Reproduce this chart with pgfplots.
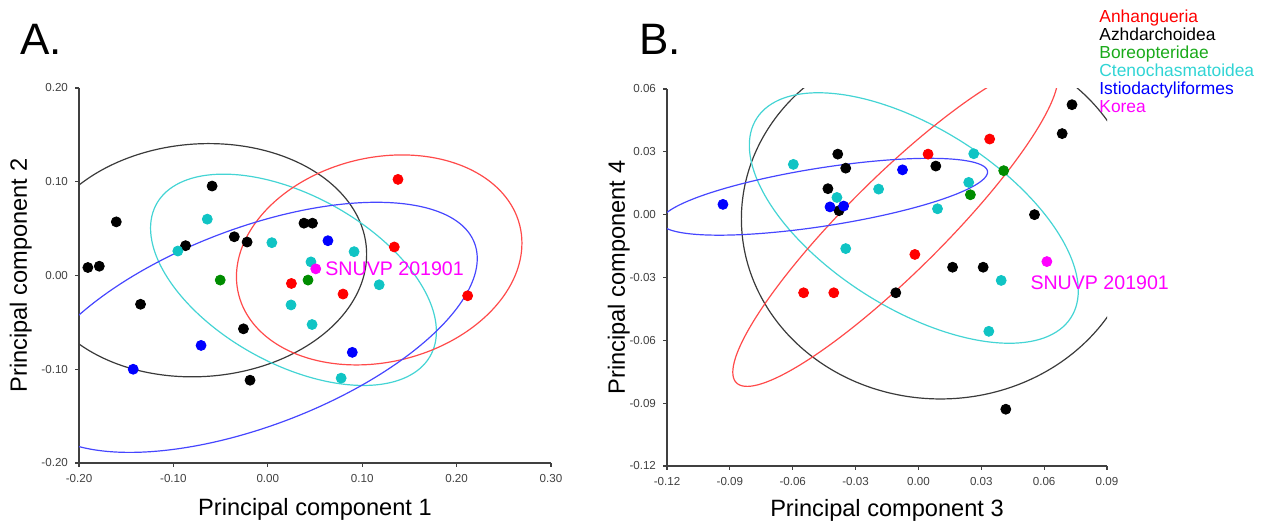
\documentclass[border=0pt]{standalone}
\usepackage{fontspec}
\setmainfont{Liberation Sans}
\usepackage{pgfplots}
\pgfplotsset{compat=1.18}

% point colours
\definecolor{pRed}{HTML}{FF0000}
\definecolor{pBlack}{HTML}{000000}
\definecolor{pGreen}{HTML}{008C00}
\definecolor{pCyan}{HTML}{10C4C4}
\definecolor{pBlue}{HTML}{0000FF}
\definecolor{pMag}{HTML}{FF00FF}
% ellipse colours
\definecolor{eRed}{HTML}{FF4A4A}
\definecolor{eBlack}{HTML}{3A3A3A}
\definecolor{eCyan}{HTML}{44D4D4}
\definecolor{eBlue}{HTML}{4646FF}
% legend text colours
\definecolor{lGreen}{HTML}{1AAA1A}
\definecolor{lCyan}{HTML}{30D4D4}
\definecolor{axgray}{HTML}{404040}

% confidence ellipse: colour, cx, cy, half-width, half-height, phase
\newcommand{\confell}[6]{%
  \addplot[#1, line width=0.6pt, domain=0:360, samples=145, smooth]
    ({#2+#4*cos(x)}, {#3+#5*cos(x-#6)});}

\pgfplotsset{pca/.style={
  scale only axis, anchor=north west, clip mode=individual,
  axis x line*=bottom, axis y line*=left,
  axis line style={draw=axgray, line width=0.6pt},
  tick align=outside, major tick length=2pt,
  tick style={draw=axgray, line width=0.6pt},
  tick label style={font=\fontsize{5.8}{7}\selectfont, text=axgray},
  scaled ticks=false,
  /pgf/number format/fixed, /pgf/number format/fixed zerofill,
  /pgf/number format/precision=2,
  /pgf/number format/assume math mode=true,
  label style={font=\fontsize{11.8}{14}\selectfont},
  pts/.style={only marks, mark=*, mark size=2.5pt},
}}

\begin{document}
\begin{tikzpicture}
\useasboundingbox (0,0) rectangle (634.5pt,-261pt);

\node[anchor=base west, font=\fontsize{22}{26}\selectfont, inner sep=0pt] at (10pt,-27.5pt) {A.};
\node[anchor=base west, font=\fontsize{22}{26}\selectfont, inner sep=0pt] at (319.5pt,-27.5pt) {B.};

% ---------------- panel A
\begin{axis}[pca, at={(39.5pt,-44pt)}, width=236pt, height=187.5pt,
  xmin=-0.2, xmax=0.3, ymin=-0.2, ymax=0.2,
  xtick={-0.2,-0.1,0,0.1,0.2,0.3}, ytick={-0.2,-0.1,0,0.1,0.2},
  xlabel={Principal component 1}, ylabel={Principal component 2},
  xlabel style={at={(axis description cs:0.5,-0.1387)}, anchor=base},
  ylabel style={at={(axis description cs:-0.1102,0.5)}, anchor=base},
]
\confell{eBlack}{-0.0713}{0.0163}{0.176}{0.1244}{87.1}
\confell{eCyan}{0.0272}{-0.0046}{0.1514}{0.1127}{119.3}
\confell{eRed}{0.118}{0.0166}{0.1512}{0.112}{80.8}
\confell{eBlue}{-0.0156}{-0.0553}{0.2375}{0.1334}{56.6}

\addplot[pts, pBlack] coordinates {
  (-0.1906,0.0085) (-0.1785,0.0099) (-0.1605,0.0572) (-0.1348,-0.0307)
  (-0.0871,0.0318) (-0.059,0.0954) (-0.0355,0.0413) (-0.0219,0.0357)
  (-0.0258,-0.0569) (-0.0188,-0.1117) (0.0383,0.0558) (0.0473,0.0558)};
\addplot[pts, pCyan] coordinates {
  (-0.0641,0.0601) (-0.0953,0.0261) (0.0043,0.035) (0.0457,0.0145)
  (0.0914,0.0254) (0.118,-0.0099) (0.0246,-0.0314) (0.0469,-0.0523)
  (0.0777,-0.1095)};
\addplot[pts, pRed] coordinates {
  (0.1379,0.1025) (0.134,0.0304) (0.025,-0.0085) (0.0797,-0.0198) (0.2117,-0.0216)};
\addplot[pts, pGreen] coordinates {(-0.0504,-0.0049) (0.0426,-0.0049)};
\addplot[pts, pBlue] coordinates {
  (0.0637,0.0371) (-0.0707,-0.0746) (-0.1426,-0.1) (0.0895,-0.082)};
\addplot[pts, pMag] coordinates {(0.0508,0.0071)};
\node[anchor=west, inner sep=0pt, text=pMag, font=\fontsize{9.8}{12}\selectfont]
  at (axis cs:0.0606,0.007) {SNUVP 201901};
\end{axis}

% ---------------- panel B
\begin{axis}[pca, at={(333.5pt,-44.5pt)}, width=220pt, height=188.5pt,
  xmin=-0.12, xmax=0.09, ymin=-0.12, ymax=0.06,
  xtick={-0.12,-0.09,-0.06,-0.03,0,0.03,0.06,0.09},
  ytick={-0.12,-0.09,-0.06,-0.03,0,0.03,0.06},
  xlabel={Principal component 3}, ylabel={Principal component 4},
  xlabel style={at={(axis description cs:0.5,-0.1353)}, anchor=base},
  ylabel style={at={(axis description cs:-0.0955,0.5)}, anchor=base},
]
\confell{eBlack}{0.0105}{-0.002}{0.095}{0.086}{90}
\confell{eCyan}{-0.0022}{-0.0016}{0.0785}{0.0598}{125.5}
\confell{eRed}{-0.011}{-0.005}{0.0776}{0.077}{24.2}
\confell{eBlue}{-0.045}{0.00855}{0.078}{0.01835}{50}

\addplot[pts, pBlack] coordinates {
  (0.0733,0.0525) (0.0686,0.0387) (-0.0385,0.0289) (-0.0347,0.0222)
  (-0.0432,0.0124) (-0.0379,0.0019) (0.0083,0.0232) (0.0554,0.0)
  (0.0163,-0.0251) (0.0309,-0.0251) (-0.0108,-0.0373) (0.0417,-0.0929)};
\addplot[pts, pCyan] coordinates {
  (-0.0597,0.024) (0.0264,0.0291) (0.024,0.0154) (-0.019,0.0122)
  (-0.0389,0.0082) (0.0091,0.0028) (-0.0347,-0.0162) (0.0395,-0.0314)
  (0.0336,-0.0557)};
\addplot[pts, pRed] coordinates {
  (0.034,0.0361) (0.0046,0.0289) (-0.0017,-0.019) (-0.0548,-0.0373) (-0.0404,-0.0373)};
\addplot[pts, pGreen] coordinates {(0.0407,0.021) (0.0248,0.0095)};
\addplot[pts, pBlue] coordinates {
  (-0.0933,0.0049) (-0.0422,0.0037) (-0.0357,0.0041) (-0.0076,0.0214)};
\addplot[pts, pMag] coordinates {(0.0613,-0.0224)};
\node[anchor=west, inner sep=0pt, text=pMag, font=\fontsize{9.8}{12}\selectfont]
  at (axis cs:0.0533,-0.0325) {SNUVP 201901};
\end{axis}

% legend: coloured group names
\begin{scope}[every node/.style={anchor=base west, inner sep=0pt, font=\fontsize{8.7}{10}\selectfont}]
\node[text=pRed]   at (549.5pt,-11.35pt) {Anhangueria};
\node[text=pBlack] at (549.5pt,-20.35pt) {Azhdarchoidea};
\node[text=lGreen] at (549.5pt,-29.5pt)  {Boreopteridae};
\node[text=lCyan]  at (549.5pt,-38.35pt) {Ctenochasmatoidea};
\node[text=pBlue]  at (549.5pt,-47.5pt)  {Istiodactyliformes};
\node[text=pMag]   at (549.5pt,-56.35pt) {Korea};
\end{scope}
\end{tikzpicture}
\end{document}
